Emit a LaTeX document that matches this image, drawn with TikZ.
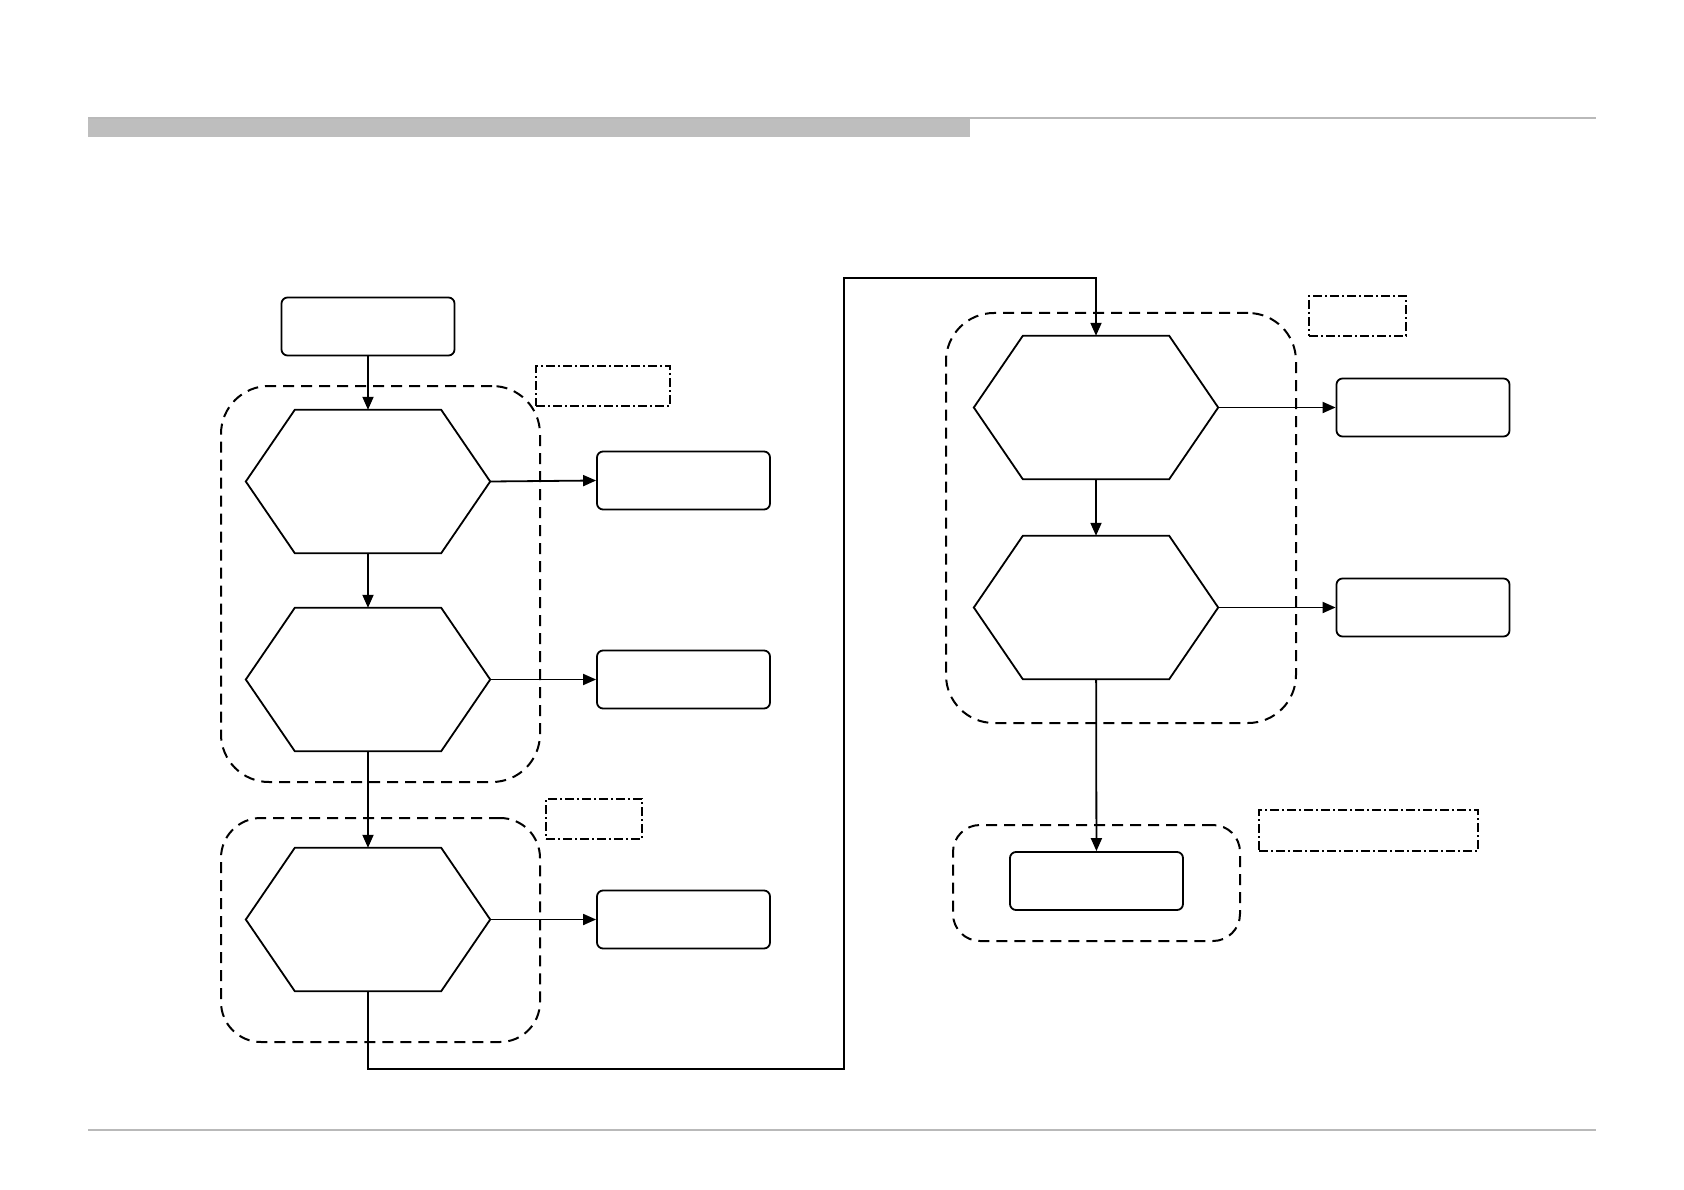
\documentclass[tikz,border=0pt]{standalone}
\usepackage{tikz}
\usetikzlibrary{positioning,arrows.meta,calc}
\definecolor{barcolor}{RGB}{190,190,190}
\definecolor{rulecolor}{RGB}{185,185,185}

\begin{document}
\begin{tikzpicture}[
  x=1pt, y=-1pt,
  box/.style={draw, rounded corners=6pt, minimum width=173pt, minimum height=58pt, inner sep=0pt, line width=1.8pt},
  hexa/.style={minimum width=244pt, minimum height=143pt, inner sep=0pt},
  grp/.style={draw, dashed, dash pattern=on 11pt off 7pt, line width=2pt, inner sep=0pt},
  note/.style={draw, dash pattern=on 9pt off 3pt on 2pt off 3pt, line width=1.4pt, inner sep=0pt},
  arr/.style={-{Triangle[length=13pt,width=11pt]}, line width=1.8pt},
  wire/.style={line width=1.8pt},
]
\useasboundingbox (0,0) rectangle (1684,1190);

% ===== header and footer rules =====
\fill[barcolor] (88,119) rectangle (970,137);
\draw[rulecolor, line width=2pt] (88,118) -- (1596,118);
\draw[rulecolor, line width=2pt] (88,1130) -- (1596,1130);

% ===== left column =====
\node[grp, rounded corners=48pt, minimum width=319pt, minimum height=396pt] (grpa) at (380.5,584) {};
\node[grp, rounded corners=40pt, minimum width=319pt, minimum height=224pt] (grpb) at (380.5,930) {};
\node[note, minimum width=134pt, minimum height=40pt] (notea) at (603,386) {};
\node[note, minimum width=96pt, minimum height=40pt] (noteb) at (594,819) {};

\node[box] (start) at (368,326.5) {};
\node[hexa] (hexa1) at (368,481.5) {};
\node[hexa] (hexa2) at (368,679.5) {};
\node[hexa] (hexa3) at (368,919.5) {};

\node[box] (outa1) at (683.5,480.5) {};
\node[box] (outa2) at (683.5,679.5) {};
\node[box] (outa3) at (683.5,919.5) {};

% ===== right column =====
\node[grp, rounded corners=48pt, minimum width=350pt, minimum height=410pt] (grpc) at (1121,518) {};
\node[grp, rounded corners=27pt, minimum width=287pt, minimum height=116pt] (grpd) at (1096.5,883) {};
\node[note, minimum width=97pt, minimum height=40pt] (notec) at (1357.5,316) {};
\node[note, minimum width=219pt, minimum height=41pt] (noted) at (1368.5,830.5) {};

\node[hexa] (hexa4) at (1096,407.5) {};
\node[hexa] (hexa5) at (1096,607.5) {};

\node[box] (outb1) at (1423,407.5) {};
\node[box] (outb2) at (1423,607.5) {};
\node[box] (final) at (1096.5,881) {};

% hexagon outlines
\foreach \h in {hexa1,hexa2,hexa3,hexa4,hexa5}
  \draw[line width=1.8pt, line join=miter]
    (\h.west) -- ($(\h.north west)+(49,0)$) -- ($(\h.north east)+(-49,0)$)
    -- (\h.east) -- ($(\h.south east)+(-49,0)$) -- ($(\h.south west)+(49,0)$) -- cycle;

% ===== connectors =====
\draw[arr] (start) -- (hexa1);
\draw[arr] (hexa1) -- (hexa2);
\draw[arr] (hexa2) -- (hexa3);
\draw[arr] (hexa1.east) -- (outa1.west);
\draw[arr] (hexa2.east) -- (outa2.west);
\draw[arr] (hexa3.east) -- (outa3.west);

\coordinate (low) at (844,1069);
\coordinate (high) at (844,278);
\draw[arr] (hexa3.south) |- (low) -- (high) -| (hexa4.north);

\draw[arr] (hexa4) -- (hexa5);
\draw[arr] (hexa4.east) -- (outb1.west);
\draw[arr] (hexa5.east) -- (outb2.west);
\draw[arr] (hexa5) -- (final);

\end{tikzpicture}
\end{document}
